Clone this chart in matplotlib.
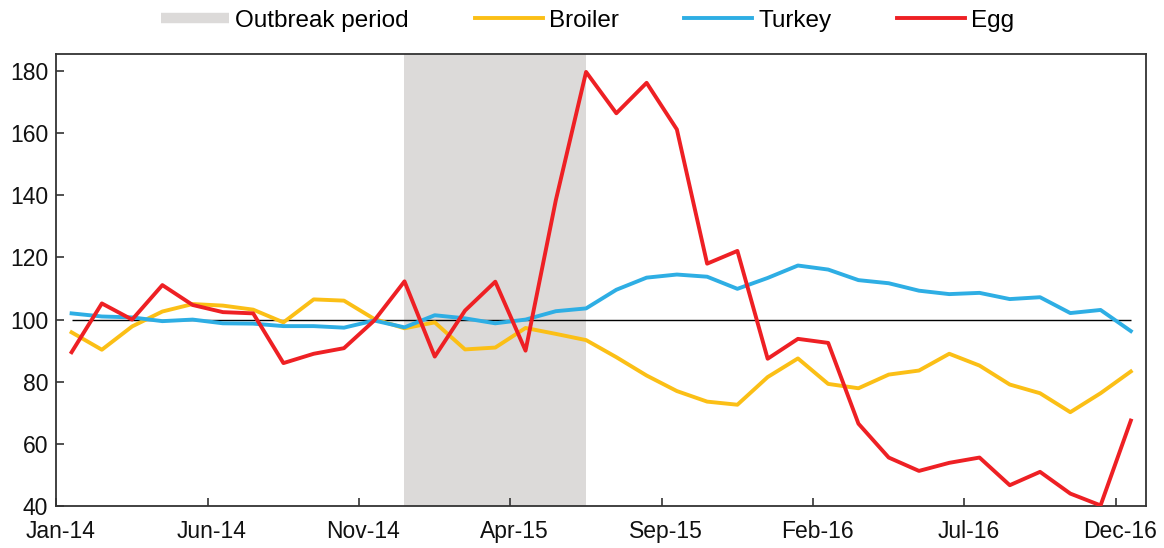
import matplotlib
matplotlib.use('Agg')
import matplotlib.pyplot as plt
import matplotlib.transforms as mtrans
from matplotlib.lines import Line2D
import numpy as np

plt.rcParams['font.family'] = ['Liberation Sans', 'DejaVu Sans']

# monthly index values, Jan-14 .. Dec-16
months = [m + '-' + y for y in ['14', '15', '16']
          for m in ['Jan', 'Feb', 'Mar', 'Apr', 'May', 'Jun',
                    'Jul', 'Aug', 'Sep', 'Oct', 'Nov', 'Dec']]

broiler = [95.9, 90.3, 97.8, 102.6, 105.0, 104.5, 103.2, 99.1, 106.5, 106.1, 100.2, 97.2,
           99.1, 90.4, 91.0, 97.3, 95.4, 93.4, 87.9, 82.0, 77.0, 73.6, 72.6, 81.5,
           87.5, 79.3, 77.9, 82.3, 83.6, 89.0, 85.2, 79.1, 76.3, 70.2, 76.3, 83.3]
turkey = [102.0, 101.0, 100.7, 99.5, 100.0, 98.8, 98.7, 97.9, 97.9, 97.4, 99.7, 97.5,
          101.4, 100.4, 98.8, 100.0, 102.7, 103.6, 109.6, 113.5, 114.5, 113.8, 109.9, 113.4,
          117.4, 116.1, 112.7, 111.7, 109.3, 108.2, 108.6, 106.6, 107.2, 102.1, 103.1, 96.3]
egg = [89.5, 105.2, 100.0, 111.1, 104.7, 102.4, 102.0, 86.0, 89.0, 90.8, 99.7, 112.3,
       88.1, 102.9, 112.2, 90.0, 138.4, 179.7, 166.4, 176.2, 161.2, 118.0, 122.1, 87.4,
       93.8, 92.5, 66.5, 55.6, 51.3, 53.9, 55.6, 46.7, 51.0, 44.0, 40.2, 67.5]

outbreak = ('Dec-14', 'Jun-15')

c_broiler = '#fbbf16'
c_turkey = '#2eaee4'
c_egg = '#ee2024'
c_shade = '#dcdad9'

fig = plt.figure(figsize=(11.64, 5.48), dpi=100)
ax = fig.add_axes([0.0485, 0.0766, 0.936, 0.825])

x = np.arange(len(months)) + 0.5
ax.axvspan(months.index(outbreak[0]) + 0.5, months.index(outbreak[1]) + 0.5,
           color=c_shade, lw=0, zorder=0)
ax.hlines(100, x[0], x[-1], color='k', lw=1.0, zorder=1)
ax.plot(x, broiler, color=c_broiler, lw=2.8, zorder=2)
ax.plot(x, turkey, color=c_turkey, lw=2.8, zorder=3)
ax.plot(x, egg, color=c_egg, lw=2.8, zorder=4)

ax.set_xlim(0, len(months))
ax.set_ylim(40, 185.5)
ax.set_yticks(range(40, 181, 20))
ticks = np.arange(0, len(months), 5)
ax.set_xticks(ticks)
ax.set_xticklabels([months[i] for i in ticks])
ax.tick_params(axis='both', direction='in', length=6, width=1.2,
               color='#333333', labelsize=16.5, labelcolor='#111111')
ax.tick_params(axis='x', pad=10)
ax.tick_params(axis='y', pad=6)
shift = mtrans.ScaledTranslation(4 / 100, 0, fig.dpi_scale_trans)
for lab in ax.get_xticklabels():
    lab.set_transform(lab.get_transform() + shift)
for s in ax.spines.values():
    s.set_color('#333333')
    s.set_linewidth(1.3)

handles = [Line2D([], [], color=c_shade, lw=7.5, solid_capstyle='butt'),
           Line2D([], [], color=c_broiler, lw=2.8),
           Line2D([], [], color=c_turkey, lw=2.8),
           Line2D([], [], color=c_egg, lw=2.8)]
fig.legend(handles, ['Outbreak period', 'Broiler', 'Turkey', 'Egg'],
           loc='center', bbox_to_anchor=(0.505, 0.962), ncol=4, frameon=False,
           fontsize=17.5, handlelength=2.8, handletextpad=0.25, columnspacing=2.7)

fig.savefig('out.png', dpi=100)
